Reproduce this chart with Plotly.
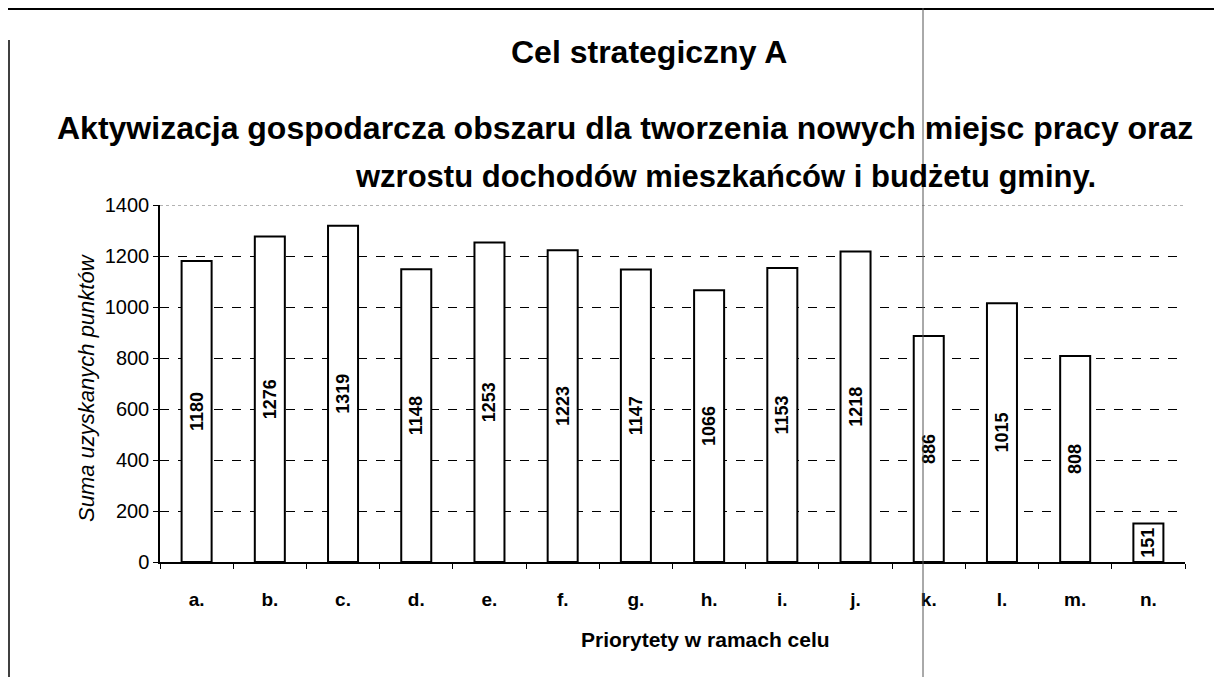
import plotly.graph_objects as go

categories = ["a.", "b.", "c.", "d.", "e.", "f.", "g.", "h.", "i.", "j.", "k.", "l.", "m.", "n."]
values = [1180, 1276, 1319, 1148, 1253, 1223, 1147, 1066, 1153, 1218, 886, 1015, 808, 151]
y_ticks = [0, 200, 400, 600, 800, 1000, 1200, 1400]

# the page body has an 8px margin, so the figure sits at (8, 8) on screen
OFF = 8
W, H = 1222 - OFF, 677 - OFF
# plot area in screen pixels
SL, SR, ST, SB = 160, 1185, 205, 562
L, R, T, B = SL - OFF, SR - OFF, ST - OFF, SB - OFF

def px(sx):
    return (sx - SL) / (SR - SL)

def py(sy):
    return (SB - sy) / (SB - ST)

FONT = "Arial, Liberation Sans, sans-serif"

fig = go.Figure(go.Bar(
    x=categories, y=values, width=0.41,
    marker=dict(color="white", line=dict(color="black", width=2)),
    text=[str(v) for v in values], textposition="inside", insidetextanchor="middle",
    textangle=-90, constraintext="none",
    textfont=dict(family=FONT, size=18, color="black", weight="bold"),
    cliponaxis=False,
))

fig.update_layout(
    width=W, height=H,
    margin=dict(l=L, r=W - R, t=T, b=H - B),
    paper_bgcolor="white", plot_bgcolor="white",
    showlegend=False,
    font=dict(family=FONT, color="black"),
    xaxis=dict(
        showline=True, linecolor="black", linewidth=1.5,
        ticks="outside", tickson="boundaries", ticklen=5, tickcolor="black",
        tickfont=dict(size=19, weight="bold"), ticklabelstandoff=19, showgrid=False,
    ),
    yaxis=dict(
        range=[0, 1400], tickvals=y_ticks, showline=True, linecolor="black", linewidth=1.5,
        ticks="outside", ticklen=5, tickcolor="black", tickfont=dict(size=20),
        showgrid=True, gridcolor="black", gridwidth=1, griddash="dash",
        zeroline=False,
    ),
)

annotations = [
    dict(text="<b>Cel strategiczny A</b>", x=px(649), y=py(52), size=32),
    dict(text="<b>Aktywizacja gospodarcza obszaru dla tworzenia nowych miejsc pracy oraz</b>", x=px(625), y=py(128), size=32),
    dict(text="<b>wzrostu dochodów mieszkańców i budżetu gminy.</b>", x=px(725), y=py(176), size=31),
    dict(text="<b>Priorytety w ramach celu</b>", x=px(705), y=py(639), size=21),
]
for a in annotations:
    fig.add_annotation(text=a["text"], x=a["x"], y=a["y"], xref="paper", yref="paper",
                       xanchor="center", yanchor="middle", showarrow=False,
                       font=dict(family=FONT, size=a["size"], color="black"))

fig.add_annotation(text="<i>Suma uzyskanych punktów</i>", x=px(86), y=py(388), xref="paper", yref="paper",
                   textangle=-90, showarrow=False, xanchor="center", yanchor="middle",
                   font=dict(family=FONT, size=22, color="black"))

# dotted top border line at 1400
fig.add_shape(type="line", xref="paper", yref="y", x0=0, x1=1, y0=1400, y1=1400,
              line=dict(color="#666666", width=1, dash="dot"))

# page decoration lines
fig.add_shape(type="line", xref="paper", yref="paper", x0=px(8), x1=px(1222), y0=py(9), y1=py(9),
              line=dict(color="black", width=2))
fig.add_shape(type="line", xref="paper", yref="paper", x0=px(9), x1=px(9), y0=py(40), y1=py(677),
              line=dict(color="black", width=1.5))
fig.add_shape(type="line", xref="paper", yref="paper", x0=px(923), x1=px(923), y0=py(8), y1=py(677),
              line=dict(color="#555555", width=1))

fig.write_html("out.html")
